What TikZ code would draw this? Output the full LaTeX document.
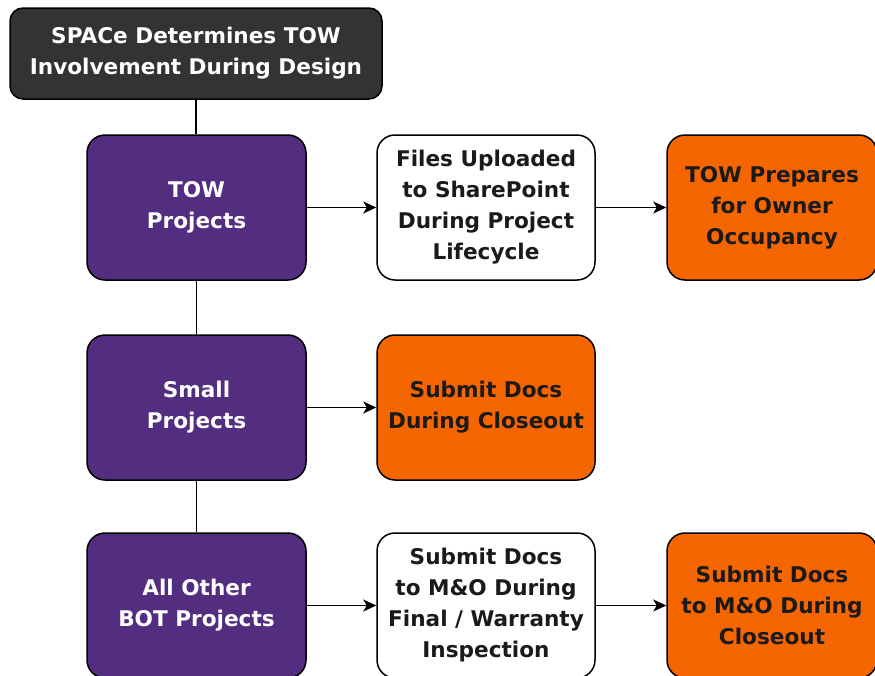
\documentclass[tikz,border=0pt]{standalone}
\usepackage{fontspec}
\setmainfont{DejaVu Sans}
\usetikzlibrary{arrows.meta}
\definecolor{darkbox}{HTML}{333333}
\definecolor{clempurple}{HTML}{522D80}
\definecolor{clemorange}{HTML}{F56600}
\definecolor{inktext}{HTML}{1A1A1A}
\tikzset{
  x=1pt, y=-1pt,
  basebox/.style={draw=black, line width=1.5pt, rounded corners=18pt,
    align=center, inner sep=0pt,
    font=\fontsize{21.6}{31}\selectfont\bfseries},
  headbox/.style={basebox, fill=darkbox, text=white, rounded corners=13pt,
    minimum width=372pt, minimum height=91pt},
  groupbox/.style={basebox, fill=clempurple, text=white,
    minimum width=219pt, minimum height=145pt},
  stagebox/.style={basebox, fill=white, text=inktext,
    minimum width=218pt, minimum height=145pt},
  endbox/.style={basebox, fill=clemorange, text=inktext,
    minimum height=145pt},
  link/.style={line width=1.5pt, draw=black},
  flow/.style={link, -{Stealth[length=13pt,width=12pt,inset=3.5pt]}}
}
\begin{document}
\begin{tikzpicture}
\useasboundingbox (0,0) rectangle (875,675);

% decision header
\node[headbox] (head) at (196,53.5) {SPACe Determines TOW\\Involvement During Design};

% project groups
\node[groupbox] (tow)   at (196.5,207.5) {TOW\\Projects};
\node[groupbox] (small) at (196.5,407.5) {Small\\Projects};
\node[groupbox] (other) at (196.5,605.5) {All Other\\BOT Projects};

% intermediate steps
\node[stagebox] (files) at (486,207.5) {Files Uploaded\\to SharePoint\\During Project\\Lifecycle};
\node[stagebox] (final) at (486,605.5) {Submit Docs\\to M\&O During\\Final / Warranty\\Inspection};

% end points
\node[endbox, minimum width=210pt] (occupy) at (772,207.5) {TOW Prepares\\for Owner\\Occupancy};
\node[endbox, minimum width=218pt] (closeA) at (486,407.5) {Submit Docs\\During Closeout};
\node[endbox, minimum width=210pt] (closeB) at (772,605.5) {Submit Docs\\to M\&O During\\Closeout};

% vertical spine
\draw[link] (head.south) -- (head.south |- tow.north);
\draw[link] (tow.south) -- (small.north);
\draw[link] (small.south) -- (other.north);

% flows
\draw[flow] (tow.east) -- (files.west);
\draw[flow] (files.east) -- (occupy.west);
\draw[flow] (small.east) -- (closeA.west);
\draw[flow] (other.east) -- (final.west);
\draw[flow] (final.east) -- (closeB.west);
\end{tikzpicture}
\end{document}
